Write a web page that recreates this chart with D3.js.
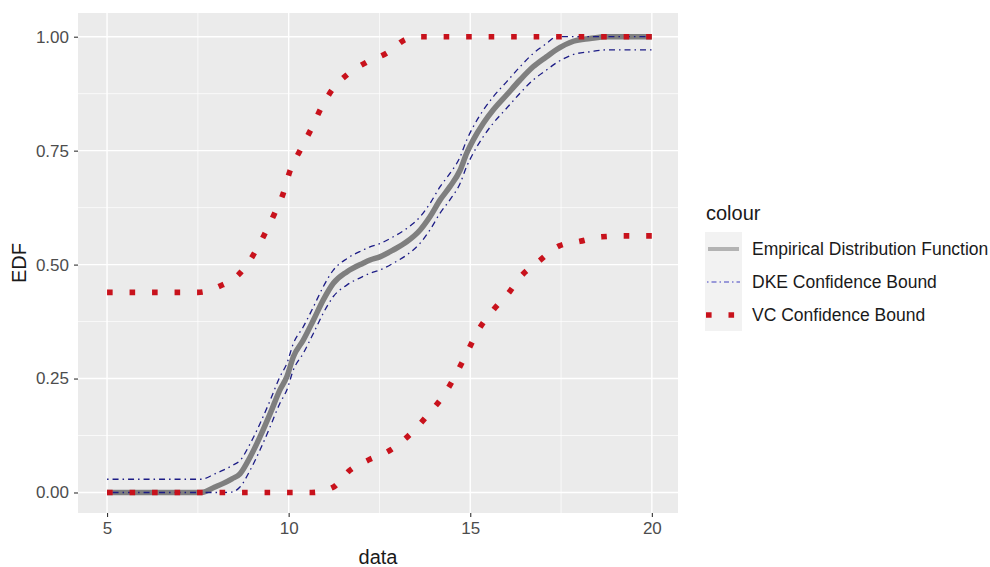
<!DOCTYPE html>
<html>
<head>
<meta charset="utf-8">
<title>EDF</title>
<style>
  body { margin: 0; background: #fff; }
  text { font-family: "Liberation Sans", Arial, sans-serif; }
</style>
</head>
<body>
<svg id="chart" width="990" height="567"></svg>
<script src="https://d3js.org/d3.v7.min.js"></script>
<script>
// empirical distribution function
var ecdfX = [5, 7.6, 7.97, 8.2, 8.44, 8.66, 8.94, 9.21, 9.49, 9.76, 9.95, 10.13, 10.40, 10.68, 10.95, 11.23, 11.60, 12.05, 12.24, 12.51,
             12.88, 13.25, 13.62, 13.89, 14.17, 14.44, 14.72, 14.90, 15.08, 15.36, 15.63, 16.00, 16.37, 16.73, 17.10, 17.38, 17.84, 18.30, 18.75, 20];
var ecdfY = [0, 0, 0.012, 0.02, 0.03, 0.041, 0.078, 0.122, 0.173, 0.225, 0.254, 0.298, 0.334, 0.378, 0.422, 0.459, 0.484, 0.503, 0.51, 0.517,
             0.532, 0.55, 0.576, 0.605, 0.642, 0.671, 0.707, 0.744, 0.773, 0.81, 0.839, 0.872, 0.905, 0.934, 0.956, 0.972, 0.99, 0.996, 1, 1];
// DKE confidence bound (same x as the ecdf)
var dkeUpper = [0.029, 0.029, 0.041, 0.049, 0.059, 0.07, 0.107, 0.151, 0.202, 0.254, 0.283, 0.327, 0.363, 0.407, 0.451, 0.488, 0.513, 0.532, 0.539, 0.546,
                0.561, 0.579, 0.605, 0.634, 0.671, 0.7, 0.736, 0.773, 0.802, 0.839, 0.868, 0.901, 0.934, 0.963, 0.985, 1, 1, 1, 1, 1];
var dkeLower = [0, 0, 0, 0, 0.001, 0.012, 0.049, 0.093, 0.144, 0.196, 0.225, 0.269, 0.305, 0.349, 0.393, 0.43, 0.455, 0.474, 0.481, 0.488,
                0.503, 0.521, 0.547, 0.576, 0.613, 0.642, 0.678, 0.715, 0.744, 0.781, 0.81, 0.843, 0.876, 0.905, 0.927, 0.943, 0.961, 0.967, 0.971, 0.971];
// VC confidence bound
var vcUpperX = [5, 7.5, 8.11, 8.61, 9.01, 9.32, 9.60, 9.85, 10.03, 10.31, 10.63, 10.91, 11.23, 11.63, 12.12, 12.70, 13.22, 13.5, 20];
var vcUpperY = [0.439, 0.439, 0.453, 0.477, 0.519, 0.564, 0.61, 0.656, 0.704, 0.75, 0.799, 0.846, 0.887, 0.918, 0.943, 0.964, 0.994, 1, 1];
var vcLowerX = [5, 10.63, 11.21, 11.69, 12.19, 12.82, 13.40, 13.86, 14.30, 14.63, 14.90, 15.20, 15.65, 16.05, 16.37, 16.90, 17.45, 18.02, 18.62, 19.23, 20];
var vcLowerY = [0, 0, 0.011, 0.049, 0.071, 0.094, 0.132, 0.173, 0.217, 0.263, 0.305, 0.353, 0.402, 0.437, 0.472, 0.508, 0.541, 0.551, 0.561, 0.563, 0.563];

var xTicks = [5, 10, 15, 20];
var xMinor = [7.5, 12.5, 17.5];
var yTicks = [0, 0.25, 0.5, 0.75, 1];
var yMinor = [0.125, 0.375, 0.625, 0.875];

var legendLabels = ["Empirical Distribution Function", "DKE Confidence Bound", "VC Confidence Bound"];

var panel = {left: 78, top: 13, right: 678, bottom: 513};
var svg = d3.select("#chart");

var x = d3.scaleLinear().domain([4.2, 20.72]).range([panel.left, panel.right]);
var y = d3.scaleLinear().domain([-0.045, 1.052]).range([panel.bottom, panel.top]);

// panel background + grid
svg.append("rect").attr("x", panel.left).attr("y", panel.top)
  .attr("width", panel.right - panel.left).attr("height", panel.bottom - panel.top)
  .attr("fill", "#ebebeb");

var grid = svg.append("g");
grid.selectAll(".xmin").data(xMinor).enter().append("line")
  .attr("x1", d => x(d)).attr("x2", d => x(d)).attr("y1", panel.top).attr("y2", panel.bottom)
  .attr("stroke", "#fff").attr("stroke-width", 0.7);
grid.selectAll(".ymin").data(yMinor).enter().append("line")
  .attr("y1", d => y(d)).attr("y2", d => y(d)).attr("x1", panel.left).attr("x2", panel.right)
  .attr("stroke", "#fff").attr("stroke-width", 0.7);
grid.selectAll(".xmaj").data(xTicks).enter().append("line")
  .attr("x1", d => x(d)).attr("x2", d => x(d)).attr("y1", panel.top).attr("y2", panel.bottom)
  .attr("stroke", "#fff").attr("stroke-width", 1.4);
grid.selectAll(".ymaj").data(yTicks).enter().append("line")
  .attr("y1", d => y(d)).attr("y2", d => y(d)).attr("x1", panel.left).attr("x2", panel.right)
  .attr("stroke", "#fff").attr("stroke-width", 1.4);

// axes
var xAxis = svg.append("g").attr("transform", "translate(0," + panel.bottom + ")")
  .call(d3.axisBottom(x).tickValues(xTicks).tickSize(4).tickPadding(5).tickFormat(d3.format("d")));
var yAxis = svg.append("g").attr("transform", "translate(" + panel.left + ",0)")
  .call(d3.axisLeft(y).tickValues(yTicks).tickSize(4).tickPadding(5).tickFormat(d3.format(".2f")));
[xAxis, yAxis].forEach(function(a) {
  a.select(".domain").remove();
  a.selectAll(".tick line").attr("stroke", "#333").attr("stroke-width", 1.1);
  a.selectAll(".tick text").attr("fill", "#4d4d4d").style("font-size", "17px")
    .style("font-family", "'Liberation Sans', Arial, sans-serif");
});

svg.append("text").attr("x", (panel.left + panel.right) / 2).attr("y", 564)
  .attr("text-anchor", "middle").style("font-size", "20px").attr("fill", "#1a1a1a").text("data");
svg.append("text").attr("transform", "translate(26," + ((panel.top + panel.bottom) / 2) + ") rotate(-90)")
  .attr("text-anchor", "middle").style("font-size", "20px").attr("fill", "#1a1a1a").text("EDF");

// lines
svg.append("clipPath").attr("id", "clip").append("rect")
  .attr("x", panel.left).attr("y", panel.top)
  .attr("width", panel.right - panel.left).attr("height", panel.bottom - panel.top);
var plot = svg.append("g").attr("clip-path", "url(#clip)");

var line = d3.line().x(d => x(d[0])).y(d => y(d[1])).curve(d3.curveMonotoneX);

plot.append("path").datum(d3.zip(ecdfX, ecdfY)).attr("d", line)
  .attr("fill", "none").attr("stroke", "#7f7f7f").attr("stroke-width", 5.5);

[dkeUpper, dkeLower].forEach(function(b) {
  plot.append("path").datum(d3.zip(ecdfX, b)).attr("d", line)
    .attr("fill", "none").attr("stroke", "#1c1c86").attr("stroke-width", 1.3)
    .attr("stroke-dasharray", "1.5,4,6,4");
});

[[vcUpperX, vcUpperY], [vcLowerX, vcLowerY]].forEach(function(b) {
  plot.append("path").datum(d3.zip(b[0], b[1])).attr("d", line)
    .attr("fill", "none").attr("stroke", "#c8121c").attr("stroke-width", 5.6)
    .attr("stroke-dasharray", "5.6,16.9");
});

// legend
var lg = svg.append("g");
lg.append("text").attr("x", 706).attr("y", 220).style("font-size", "20px").attr("fill", "#1a1a1a").text("colour");
var keyY = [249, 282, 315];
lg.append("rect").attr("x", 705).attr("y", 232).attr("width", 37).attr("height", 99).attr("fill", "#f2f2f2");
lg.append("line").attr("x1", 708).attr("x2", 739).attr("y1", keyY[0]).attr("y2", keyY[0])
  .attr("stroke", "#b3b3b3").attr("stroke-width", 4);
lg.append("line").attr("x1", 707).attr("x2", 740).attr("y1", keyY[1]).attr("y2", keyY[1])
  .attr("stroke", "#4040c0").attr("stroke-width", 1.1).attr("stroke-dasharray", "1.5,3,5,3");
lg.append("line").attr("x1", 706).attr("x2", 741).attr("y1", keyY[2]).attr("y2", keyY[2])
  .attr("stroke", "#c8121c").attr("stroke-width", 5.6).attr("stroke-dasharray", "5.6,16.9");
lg.selectAll(".lab").data(legendLabels).enter().append("text")
  .attr("x", 752).attr("y", (d, i) => keyY[i] + 6)
  .style("font-size", "17.5px").attr("fill", "#1a1a1a").text(d => d);
</script>
</body>
</html>
